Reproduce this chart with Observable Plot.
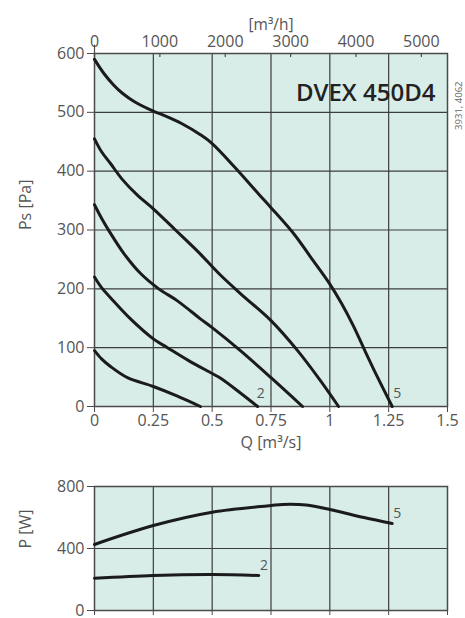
<!DOCTYPE html>
<html>
<head>
<meta charset="utf-8">
<script src="https://cdn.jsdelivr.net/npm/d3@7"></script>
<script src="https://cdn.jsdelivr.net/npm/@observablehq/plot@0.6"></script>
<style>
  html, body { margin: 0; padding: 0; background: #fff; }
  #chart svg { display: block; }
</style>
</head>
<body>
<div id="chart"></div>
<script>
// ---- data ----
const title = "DVEX 450D4";
const sideNote = "3931, 4062";
const qTicks = [0, 0.25, 0.5, 0.75, 1, 1.25, 1.5];        // m³/s
const qhTicks = [0, 1000, 2000, 3000, 4000, 5000];        // m³/h
const psTicks = [0, 100, 200, 300, 400, 500, 600];
const pTicks = [0, 400, 800];

const c1Q  = [0, 0.03, 0.068, 0.14, 0.25, 0.35, 0.45];
const c1Ps = [95, 81, 68, 49, 34, 18, 0];
const c2Q  = [0, 0.03, 0.068, 0.153, 0.25, 0.31, 0.4, 0.5, 0.536, 0.62, 0.693];
const c2Ps = [220, 202, 185, 149, 115, 100, 78, 56, 48, 23, 0];
const c3Q  = [0, 0.03, 0.061, 0.125, 0.196, 0.273, 0.351, 0.45, 0.5, 0.62, 0.75, 0.884];
const c3Ps = [343, 320, 299, 260, 226, 200, 180, 149, 134, 95, 49, 0];
const c4Q  = [0, 0.03, 0.068, 0.118, 0.18, 0.25, 0.344, 0.45, 0.536, 0.62, 0.75, 0.863, 0.96, 1.037];
const c4Ps = [455, 433, 413, 386, 360, 336, 300, 259, 223, 192, 146, 95, 44, 0];
const c5Q  = [0, 0.04, 0.08, 0.12, 0.17, 0.25, 0.3, 0.37, 0.45, 0.5, 0.6, 0.7, 0.75, 0.85, 0.92, 1.0, 1.05, 1.1, 1.143, 1.2, 1.265];
const c5Ps = [590, 566, 547, 532, 518, 502, 494, 481, 462, 447, 405, 360, 338, 292, 253, 208, 175, 137, 100, 52, 0];

const p2Q = [0, 0.25, 0.5, 0.698];
const p2W = [208, 226, 232, 226];
const p5Q = [0, 0.25, 0.5, 0.75, 0.8, 0.9, 1.0, 1.145, 1.265];
const p5W = [426, 548, 634, 677, 684, 680, 652, 600, 561];

const curveLabels = ["2", "5"];
const curveLabelQ = [0.706, 1.286];
const curveLabelPs = [22, 22];
const powerLabelQ = [0.72, 1.287];
const powerLabelW = [290, 626];

// ---- build tables ----
const toRows = (qs, vs, id) => qs.map((q, i) => ({q, v: vs[i], id}));
const psCurves = [
  ...toRows(c1Q, c1Ps, 1), ...toRows(c2Q, c2Ps, 2), ...toRows(c3Q, c3Ps, 3),
  ...toRows(c4Q, c4Ps, 4), ...toRows(c5Q, c5Ps, 5)
];
const pCurves = [...toRows(p2Q, p2W, 2), ...toRows(p5Q, p5W, 5)];
const psLabelRows = curveLabels.map((t, i) => ({t, q: curveLabelQ[i], v: curveLabelPs[i]}));
const pLabelRows = curveLabels.map((t, i) => ({t, q: powerLabelQ[i], v: powerLabelW[i]}));

const bg = "#d8ede8";
const gridC = "#3c3c3c";
const frameC = "#4a4a4a";
const lineC = "#1b1b1b";
const textC = "#555";
const innerQ = qTicks.filter(d => d > 0 && d < 1.5);

const common = {
  width: 465,
  marginLeft: 94,
  marginRight: 18,
  style: {fontFamily: "'Open Sans', sans-serif", fontSize: "16px", color: textC, background: "transparent", overflow: "visible"},
  x: {domain: [0, 1.5]}
};

const topPlot = Plot.plot({
  ...common,
  height: 450,
  marginTop: 53,
  marginBottom: 44,
  y: {domain: [0, 600]},
  marks: [
    Plot.frame({fill: bg, stroke: null}),
    Plot.gridX(innerQ, {stroke: gridC, strokeOpacity: 1, strokeWidth: 1.2}),
    Plot.gridY(psTicks.filter(d => d > 0 && d < 600), {stroke: gridC, strokeOpacity: 1, strokeWidth: 1.2}),
    Plot.frame({stroke: frameC, strokeWidth: 1.5}),
    Plot.axisX({anchor: "bottom", ticks: qTicks, tickSize: 6, tickPadding: 2, tickFormat: d => String(d), label: null, stroke: frameC}),
    Plot.axisX({anchor: "top", ticks: qhTicks.map(d => d / 3600), tickSize: 0, tickPadding: 7,
      tickFormat: d => String(Math.round(d * 3600)), label: null}),
    Plot.ruleX(qhTicks.map(d => d / 3600), {y1: 600, y2: 593, stroke: frameC, strokeWidth: 1.2}),
    Plot.ruleX([0], {y1: 600, y2: 614, stroke: frameC, strokeWidth: 1.2}),
    Plot.axisY({ticks: psTicks, tickSize: 7, tickPadding: 3, label: null, stroke: frameC}),
    Plot.line(psCurves, {x: "q", y: "v", z: "id", stroke: lineC, strokeWidth: 3, curve: "catmull-rom"}),
    Plot.text(psLabelRows, {x: "q", y: "v", text: "t", fill: textC, fontSize: 14}),
    Plot.text([title], {frameAnchor: "top-right", dx: -12, dy: 30, textAnchor: "end", fontSize: 24, fontWeight: 600, fill: "#222"}),
    Plot.text([sideNote], {frameAnchor: "top-right", dx: 8, dy: 28, rotate: -90, fontSize: 9.5, fill: "#666"}),
    Plot.text(["[m³/h]"], {frameAnchor: "top", dy: -35, fontSize: 15.5, fill: textC}),
    Plot.text(["Q [m³/s]"], {frameAnchor: "bottom", dy: 41, fontSize: 16, fill: textC}),
    Plot.text(["Ps [Pa]"], {frameAnchor: "left", dx: -69, rotate: -90, fontSize: 16, fill: textC})
  ]
});

const bottomPlot = Plot.plot({
  ...common,
  height: 168,
  marginTop: 36,
  marginBottom: 8,
  y: {domain: [0, 800]},
  marks: [
    Plot.frame({fill: bg, stroke: null}),
    Plot.gridX(innerQ, {stroke: gridC, strokeOpacity: 1, strokeWidth: 1.2}),
    Plot.gridY([400], {stroke: gridC, strokeOpacity: 1, strokeWidth: 1.2}),
    Plot.frame({stroke: frameC, strokeWidth: 1.5}),
    Plot.axisX({anchor: "bottom", ticks: qTicks, tickSize: 5, tickFormat: () => "", label: null, stroke: frameC}),
    Plot.axisY({ticks: pTicks, tickSize: 7, tickPadding: 3, label: null, stroke: frameC}),
    Plot.line(pCurves, {x: "q", y: "v", z: "id", stroke: lineC, strokeWidth: 3, curve: "catmull-rom"}),
    Plot.text(pLabelRows, {x: "q", y: "v", text: "t", fill: textC, fontSize: 14}),
    Plot.text(["P [W]"], {frameAnchor: "left", dx: -69, rotate: -90, fontSize: 16, fill: textC})
  ]
});

const chart = document.getElementById("chart");
chart.appendChild(topPlot);
chart.appendChild(bottomPlot);
</script>
</body>
</html>
